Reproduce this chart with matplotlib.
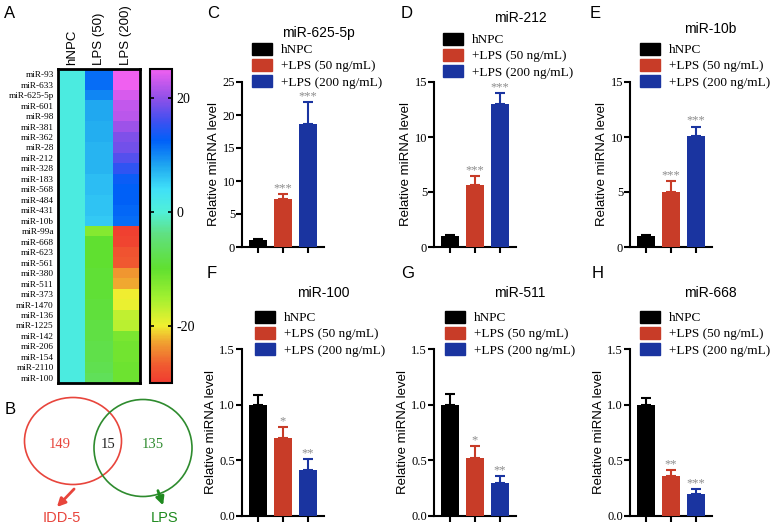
import matplotlib
matplotlib.use("Agg")
import matplotlib.pyplot as plt
import numpy as np
from matplotlib.colors import LinearSegmentedColormap, Normalize
from matplotlib.patches import Ellipse, Patch

plt.rcParams['font.family'] = ['Liberation Sans', 'DejaVu Sans']
plt.rcParams['axes.unicode_minus'] = False
SERIF = 'Liberation Serif'

W, H = 776, 527

# ---- heatmap data (A) ----
mirs = ['miR-93', 'miR-633', 'miR-625-5p', 'miR-601', 'miR-98', 'miR-381', 'miR-362',
        'miR-28', 'miR-212', 'miR-328', 'miR-183', 'miR-568', 'miR-484', 'miR-431',
        'miR-10b', 'miR-99a', 'miR-668', 'miR-623', 'miR-561', 'miR-380', 'miR-511',
        'miR-373', 'miR-1470', 'miR-136', 'miR-1225', 'miR-142', 'miR-206', 'miR-154',
        'miR-2110', 'miR-100']
hm_cols = ['hNPC', 'LPS (50)', 'LPS (200)']
hnpc = [1.0] * 30
lps50 = [11.5, 11.5, 10, 8, 8, 7.5, 7.5, 7, 7, 7, 6.5, 6.5, 6, 6, 5.5,
         -13, -10, -10, -10, -9.5, -9.5, -9.5, -9, -9, -8.5, -8.5, -8, -8, -7.5, -7]
lps200 = [25, 25, 23.5, 22.5, 22, 20.5, 19, 18.5, 17, 15, 13, 12.5, 12.5, 12, 11.5,
          -29.5, -29, -27.5, -27, -23.5, -22.5, -20, -19.5, -17, -16.5, -12, -11.5, -11.5, -11, -11]
cb_ticks = [-20, 0, 20]

# ---- venn (B) ----
venn_counts = [149, 15, 135]
venn_names = ['IDD-5', 'LPS']

# ---- bar panels (C-H) ----
groups = ['hNPC', '+LPS (50 ng/mL)', '+LPS (200 ng/mL)']
titles = ['miR-625-5p', 'miR-212', 'miR-10b', 'miR-100', 'miR-511', 'miR-668']
means = [[1.0, 7.2, 18.6], [1.0, 5.6, 13.0], [1.0, 5.0, 10.1],
         [1.0, 0.70, 0.41], [1.0, 0.52, 0.30], [1.0, 0.355, 0.20]]
errs = [[0.15, 0.8, 3.3], [0.12, 0.85, 1.0], [0.1, 1.0, 0.85],
        [0.09, 0.10, 0.10], [0.10, 0.11, 0.06], [0.06, 0.055, 0.04]]
stars = [['', '***', '***'], ['', '***', '***'], ['', '***', '***'],
         ['', '*', '**'], ['', '*', '**'], ['', '**', '***']]
ymaxs = [25, 15, 15, 1.5, 1.5, 1.5]
ysteps = [5, 5, 5, 0.5, 0.5, 0.5]
bar_colors = ['#000000', '#c83c28', '#1a34a0']


def px(x0, y0, x1, y1):
    return [x0 / W, 1 - y1 / H, (x1 - x0) / W, (y1 - y0) / H]


fig = plt.figure(figsize=(W / 100, H / 100), dpi=100)

# ---------- A: heatmap ----------
nodes = [(-30, '#f03c30'), (-27, '#f05a30'), (-23, '#f0a030'), (-20, '#f0f030'),
         (-15, '#a0f030'), (-10, '#60e030'), (-4, '#60e080'), (0, '#50f0d8'),
         (4, '#40e0f8'), (8, '#20a8f0'), (12.5, '#0060f8'), (16, '#4050f0'),
         (20, '#9050e8'), (25, '#f060f0')]
vmin, vmax = -30, 25
cmap = LinearSegmentedColormap.from_list(
    'mir', [((v - vmin) / (vmax - vmin), c) for v, c in nodes])

data = np.column_stack([hnpc, lps50, lps200])
ax = fig.add_axes(px(58, 69, 140, 383))
im = ax.imshow(data, aspect='auto', cmap=cmap, norm=Normalize(vmin, vmax),
               interpolation='nearest')
ax.set_yticks(range(len(mirs)))
ax.set_yticklabels(mirs, fontsize=6.7, family=SERIF)
ax.tick_params(length=0, pad=3)
ax.set_xticks([])
for s in ax.spines.values():
    s.set_linewidth(2)
for j, c in enumerate(hm_cols):
    ax.text(j, -0.9, c, rotation=90, ha='center', va='bottom', fontsize=9.5)

cax = fig.add_axes(px(150, 69, 172, 383))
cb = fig.colorbar(im, cax=cax, ticks=cb_ticks)
cb.outline.set_linewidth(1.5)
cax.tick_params(direction='in', left=True, right=True, length=3, width=1.2, pad=3)
for t in cax.get_yticklabels():
    t.set_family(SERIF)
    t.set_fontsize(10)

# ---------- B: venn ----------
red_v, green_v = '#e8453c', '#2e8b2e'
av = fig.add_axes(px(0, 390, 200, 527))
av.set_xlim(0, 200)
av.set_ylim(527, 390)
av.axis('off')
av.add_patch(Ellipse((73, 441), 97, 87, fill=False, ec=red_v, lw=1.2))
av.add_patch(Ellipse((143, 448), 98, 97, fill=False, ec=green_v, lw=1.2))
av.text(60, 444, str(venn_counts[0]), color=red_v, ha='center', va='center', fontsize=10.5, family=SERIF)
av.text(108, 445, str(venn_counts[1]), color='#222222', ha='center', va='center', fontsize=10.5, family=SERIF)
av.text(153, 445, str(venn_counts[2]), color=green_v, ha='center', va='center', fontsize=10.5, family=SERIF)
av.annotate('', xy=(55, 509), xytext=(76, 487),
            arrowprops=dict(arrowstyle='-|>', color=red_v, lw=2, mutation_scale=12))
av.annotate('', xy=(164, 508), xytext=(157, 488),
            arrowprops=dict(arrowstyle='-|>', color='#1f8a1f', lw=2, mutation_scale=12))
av.text(62, 518, venn_names[0], color=red_v, ha='center', va='center', fontsize=10.5)
av.text(165, 518, venn_names[1], color='#1f8a1f', ha='center', va='center', fontsize=10.5)

# ---------- C-H: bar charts ----------
axis_x = [242, 434, 630, 242, 434, 630]
rows_y = [(82, 247), (82, 247), (82, 247), (349, 516), (349, 516), (349, 516)]
title_pos = [(318, 33), (520, 18), (710, 29), (323, 293), (520, 293), (710, 293)]
leg_pos = [(252, 43), (443, 33), (640, 43), (255, 311), (445, 311), (640, 311)]
letters = ['C', 'D', 'E', 'F', 'G', 'H']
letter_pos = [(213, 13), (407, 13), (595, 13), (212, 273), (408, 273), (598, 273)]

x = np.arange(3)
for k in range(6):
    y0, y1 = rows_y[k]
    ax = fig.add_axes(px(axis_x[k], y0, axis_x[k] + 82, y1))
    ax.bar(x, means[k], width=0.74, color=bar_colors, zorder=3)
    for i in range(3):
        ax.errorbar(x[i], means[k][i], yerr=[[0], [errs[k][i]]], color=bar_colors[i],
                    capsize=3.5, elinewidth=1.5, capthick=1.5, zorder=2)
        if stars[k][i]:
            ax.annotate(stars[k][i], (x[i], means[k][i] + errs[k][i]), xytext=(0, 0),
                        textcoords='offset points', ha='center', va='bottom',
                        color='#8c8c8c', fontsize=9, family=SERIF, annotation_clip=False)
    ax.set_xlim(-0.65, 2.65)
    ax.set_ylim(0, ymaxs[k])
    yt = np.arange(0, ymaxs[k] + ysteps[k] / 2, ysteps[k])
    ax.set_yticks(yt)
    if ysteps[k] < 1:
        ax.set_yticklabels(['%.1f' % v for v in yt], family=SERIF, fontsize=9)
    else:
        ax.set_yticklabels(['%d' % v for v in yt], family=SERIF, fontsize=9)
    ax.set_xticks(x)
    ax.set_xticklabels([])
    ax.spines['top'].set_visible(False)
    ax.spines['right'].set_visible(False)
    ax.spines['left'].set_linewidth(1.5)
    ax.spines['bottom'].set_linewidth(1.5)
    ax.tick_params(length=4, width=1.5, pad=1)
    ax.set_ylabel('Relative miRNA level', fontsize=9.5, labelpad=2)
    handles = [Patch(color=c) for c in bar_colors]
    lx, ly = leg_pos[k]
    ax.legend(handles, groups, loc='upper left', bbox_to_anchor=(lx / W, 1 - ly / H),
              bbox_transform=fig.transFigure, frameon=False, borderpad=0, borderaxespad=0,
              handlelength=1.5, handleheight=1.0, labelspacing=0.2, handletextpad=0.7,
              prop={'family': SERIF, 'size': 9.5})
    tx, ty = title_pos[k]
    fig.text(tx / W, 1 - ty / H, titles[k], ha='center', va='center', fontsize=10)
    lx, ly = letter_pos[k]
    fig.text(lx / W, 1 - ly / H, letters[k], ha='center', va='center', fontsize=12)

fig.text(10 / W, 1 - 13 / H, 'A', ha='center', va='center', fontsize=12)
fig.text(10 / W, 1 - 410 / H, 'B', ha='center', va='center', fontsize=12)

fig.savefig('out.png', dpi=100)
